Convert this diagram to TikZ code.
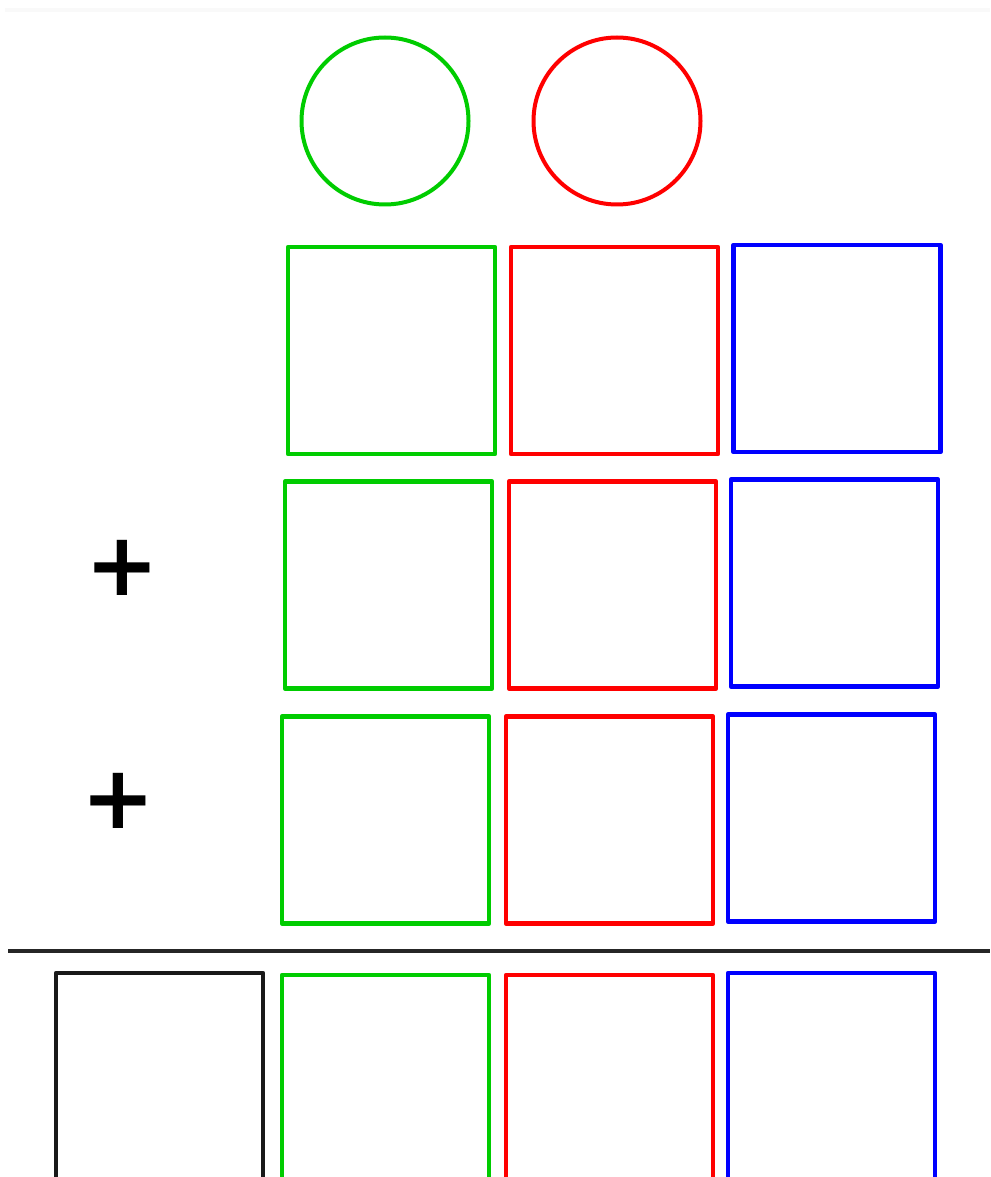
\documentclass[tikz,border=0pt]{standalone}
\usepackage{fontspec}
\newfontfamily\plusfont{DejaVu Sans}
\usetikzlibrary{positioning}
\definecolor{boxgreen}{RGB}{0,204,0}
\definecolor{boxred}{RGB}{255,0,0}
\definecolor{boxblue}{RGB}{0,0,255}
\tikzset{
  sq/.style={draw, line width=4.5pt, inner sep=0pt, outer sep=0pt,
    minimum width=207pt, minimum height=207pt},
  ring/.style={draw, circle, line width=4pt, inner sep=0pt, minimum size=167pt},
  plus/.style={inner sep=0pt, font=\plusfont\bfseries\fontsize{88}{88}\selectfont}
}

\begin{document}
\begin{tikzpicture}[x=1pt,y=-1pt,line join=round,line cap=round]
\useasboundingbox (0,0) rectangle (990,1177);
\clip (0,0) rectangle (990,1177);
\fill[gray!5] (5,8) rectangle (990,12);
% top circles
\node[ring,boxgreen] (cg) at (385,121) {};
\node[ring,boxred] (cr) at (617,121) {};
% three rows of squares
\foreach \r/\gx/\rx/\bx/\y/\by in {1/391.5/614.5/837/350.5/348.5,
    2/388.5/612.5/834.5/585/583, 3/385.5/609.5/831.5/820/818}
  {\node[sq,boxgreen] (g\r) at (\gx,\y) {};
   \node[sq,boxred] (r\r) at (\rx,\y) {};
   \node[sq,boxblue] (b\r) at (\bx,\by) {};}
\node[plus] (p2) at (122,568) {+};
\node[plus] (p3) at (118,801) {+};
% sum bar
\coordinate (bar-l) at (8,951);
\coordinate (bar-r) at (990,951);
\draw[line width=4pt,line cap=butt,black!85] (bar-l) -- (bar-r);
% result row
\node[sq,black!90] (k4) at (159.5,1076.5) {};
\node[sq,boxgreen] (g4) at (385.5,1078.5) {};
\node[sq,boxred] (r4) at (609.5,1078.5) {};
\node[sq,boxblue] (b4) at (831.5,1076.5) {};
\end{tikzpicture}
\end{document}
